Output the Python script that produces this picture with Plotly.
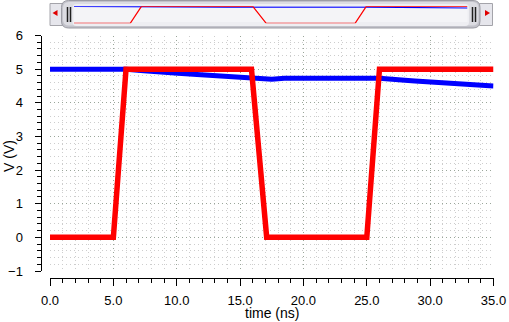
import plotly.graph_objects as go

# ---- data ----
time_blue = [0, 6.0, 7.4, 8.2, 10.1, 11.6, 13.0, 13.7, 15.0, 16.3, 17.5, 18.5, 19.7,
             22.0, 26.0, 26.7, 28.0, 28.8, 30.1, 30.8, 32.2, 33.7, 35.0]
v_blue = [5.0, 5.0, 4.95, 4.92, 4.88, 4.84, 4.81, 4.78, 4.76, 4.72, 4.70, 4.73, 4.74,
          4.73, 4.73, 4.70, 4.67, 4.65, 4.62, 4.60, 4.57, 4.53, 4.50]
time_red = [0, 5.0, 6.0, 15.9, 17.1, 25.0, 26.0, 35.0]
v_red = [0, 0, 5, 5, 0, 0, 5, 5]

x_title = "time (ns)"
y_title = "V (V)"

W, H = 509, 322
def px(x):
    return x / W
def py(y):
    return 1 - y / H

BLUE = "#0000ff"
RED = "#ff0000"

fig = go.Figure()
# main traces
fig.add_trace(go.Scatter(x=time_blue, y=v_blue, mode="lines",
                         line=dict(color=BLUE, width=5), cliponaxis=False,
                         xaxis="x", yaxis="y", showlegend=False, hoverinfo="skip"))
fig.add_trace(go.Scatter(x=time_red, y=v_red, mode="lines",
                         line=dict(color=RED, width=5.5), cliponaxis=False,
                         xaxis="x", yaxis="y", showlegend=False, hoverinfo="skip"))
# overview traces (scrollbar)
fig.add_trace(go.Scatter(x=time_blue, y=v_blue, mode="lines",
                         line=dict(color=BLUE, width=1.2), cliponaxis=False,
                         xaxis="x2", yaxis="y2", showlegend=False, hoverinfo="skip"))
fig.add_trace(go.Scatter(x=time_red, y=v_red, mode="lines",
                         line=dict(color=RED, width=1.2), cliponaxis=False,
                         xaxis="x2", yaxis="y2", showlegend=False, hoverinfo="skip"))

FONT = "Liberation Sans, Arial, sans-serif"
MAJ_GRID = "#9aa69a"
MIN_GRID = "#cdcdcd"

fig.update_layout(
    width=W, height=H,
    autosize=False,
    margin=dict(l=0, r=0, t=0, b=0, pad=0, autoexpand=False),
    paper_bgcolor="white",
    plot_bgcolor="rgba(0,0,0,0)",
    font=dict(family=FONT, size=13, color="black"),
    xaxis=dict(
        domain=[px(50), px(493.5)], range=[0, 35], anchor="free", position=py(278),
        dtick=5, tick0=0, tickformat=".1f", ticks="outside", ticklen=7, tickwidth=1,
        tickcolor="black", showline=True, linecolor="black", linewidth=1,
        showgrid=True, gridcolor=MAJ_GRID, griddash="1px,3px", gridwidth=1,
        zeroline=False, tickfont=dict(size=13), ticklabelstandoff=3, automargin=False,
        minor=dict(dtick=1, ticks="outside", ticklen=4, tickcolor="black",
                   showgrid=True, gridcolor=MIN_GRID, griddash="1px,3px", gridwidth=1),
        fixedrange=True,
    ),
    yaxis=dict(
        domain=[py(271), py(35.5)], range=[-1, 6], anchor="free", position=px(40.5),
        dtick=1, tick0=0, ticks="outside", ticklen=6, tickwidth=1,
        tickcolor="black", showline=True, linecolor="black", linewidth=1,
        showgrid=True, gridcolor=MAJ_GRID, griddash="1px,3px", gridwidth=1,
        zeroline=False, tickfont=dict(size=13), ticklabelstandoff=9, automargin=False,
        minor=dict(dtick=0.2, ticks="outside", ticklen=4, tickcolor="black",
                   showgrid=True, gridcolor=MIN_GRID, griddash="1px,3px", gridwidth=1),
        fixedrange=True,
    ),
    xaxis2=dict(domain=[px(74), px(467.5)], range=[0, 35], anchor="y2", visible=False,
                fixedrange=True),
    yaxis2=dict(domain=[py(23.3), py(6.3)], range=[0, 5], anchor="x2", visible=False,
                fixedrange=True),
)

# axis titles
fig.add_annotation(text=x_title, x=px(272), y=py(313), xref="paper", yref="paper",
                   showarrow=False, font=dict(size=14), xanchor="center", yanchor="middle")
fig.add_annotation(text=y_title, x=px(9), y=py(156), xref="paper", yref="paper",
                   showarrow=False, font=dict(size=14), textangle=-90,
                   xanchor="center", yanchor="middle")

# ---- scrollbar graphic ----
shapes = []
def rect(x0, y0, x1, y1, fill, line=None, lw=1):
    shapes.append(dict(type="rect", xref="paper", yref="paper", layer="below",
                       x0=px(x0), x1=px(x1), y0=py(y1), y1=py(y0), fillcolor=fill,
                       line=dict(color=line or fill, width=lw if line else 0)))

def rrect(x0, y0, x1, y1, r, fill, line=None, lw=1):
    X = lambda v: f"{px(v):.6f}"
    Y = lambda v: f"{py(v):.6f}"
    p = (f"M {X(x0+r)},{Y(y0)} L {X(x1-r)},{Y(y0)} Q {X(x1)},{Y(y0)} {X(x1)},{Y(y0+r)} "
         f"L {X(x1)},{Y(y1-r)} Q {X(x1)},{Y(y1)} {X(x1-r)},{Y(y1)} "
         f"L {X(x0+r)},{Y(y1)} Q {X(x0)},{Y(y1)} {X(x0)},{Y(y1-r)} "
         f"L {X(x0)},{Y(y0+r)} Q {X(x0)},{Y(y0)} {X(x0+r)},{Y(y0)} Z")
    shapes.append(dict(type="path", xref="paper", yref="paper", layer="below", path=p,
                       fillcolor=fill, line=dict(color=line or fill, width=lw if line else 0)))

def tri(pts, fill):
    p = "M " + " L ".join(f"{px(a):.6f},{py(b):.6f}" for a, b in pts) + " Z"
    shapes.append(dict(type="path", xref="paper", yref="paper", layer="below", path=p,
                       fillcolor=fill, line=dict(width=0)))

def vline(x, y0, y1, color, w=1):
    shapes.append(dict(type="line", xref="paper", yref="paper", layer="below",
                       x0=px(x), x1=px(x), y0=py(y0), y1=py(y1),
                       line=dict(color=color, width=w)))

# buttons
rect(50, 3.5, 62.5, 25.5, "#e6e6ec", "#a4a4aa")
rect(479.5, 3.5, 492.5, 25.5, "#e6e6ec", "#a4a4aa")
tri([(52.5, 13), (57.5, 10), (57.5, 16)], "#e00000")
tri([(490, 13), (485, 10), (485, 16)], "#e00000")
# thumb
rrect(61.5, 0.5, 480, 28, 7, "#c2c2ca", "#9c9ca4")
rrect(63, 2, 478.5, 25.5, 6, "#dcdce2")
rrect(72.5, 4, 469, 26, 4, "#eeeef2")
rect(74, 6, 467.5, 22, "#f4f4f7")
# grips
vline(67.5, 7, 22, "#202020", 1.5)
vline(70.5, 7, 22, "#202020", 1.5)
vline(472.5, 7, 22, "#202020", 1.5)
vline(475.5, 7, 22, "#202020", 1.5)

fig.update_layout(shapes=shapes)

fig.write_html("out.html", config={"responsive": False, "displayModeBar": False},
               post_script="document.body.style.margin='0px';document.body.style.padding='0px';")
